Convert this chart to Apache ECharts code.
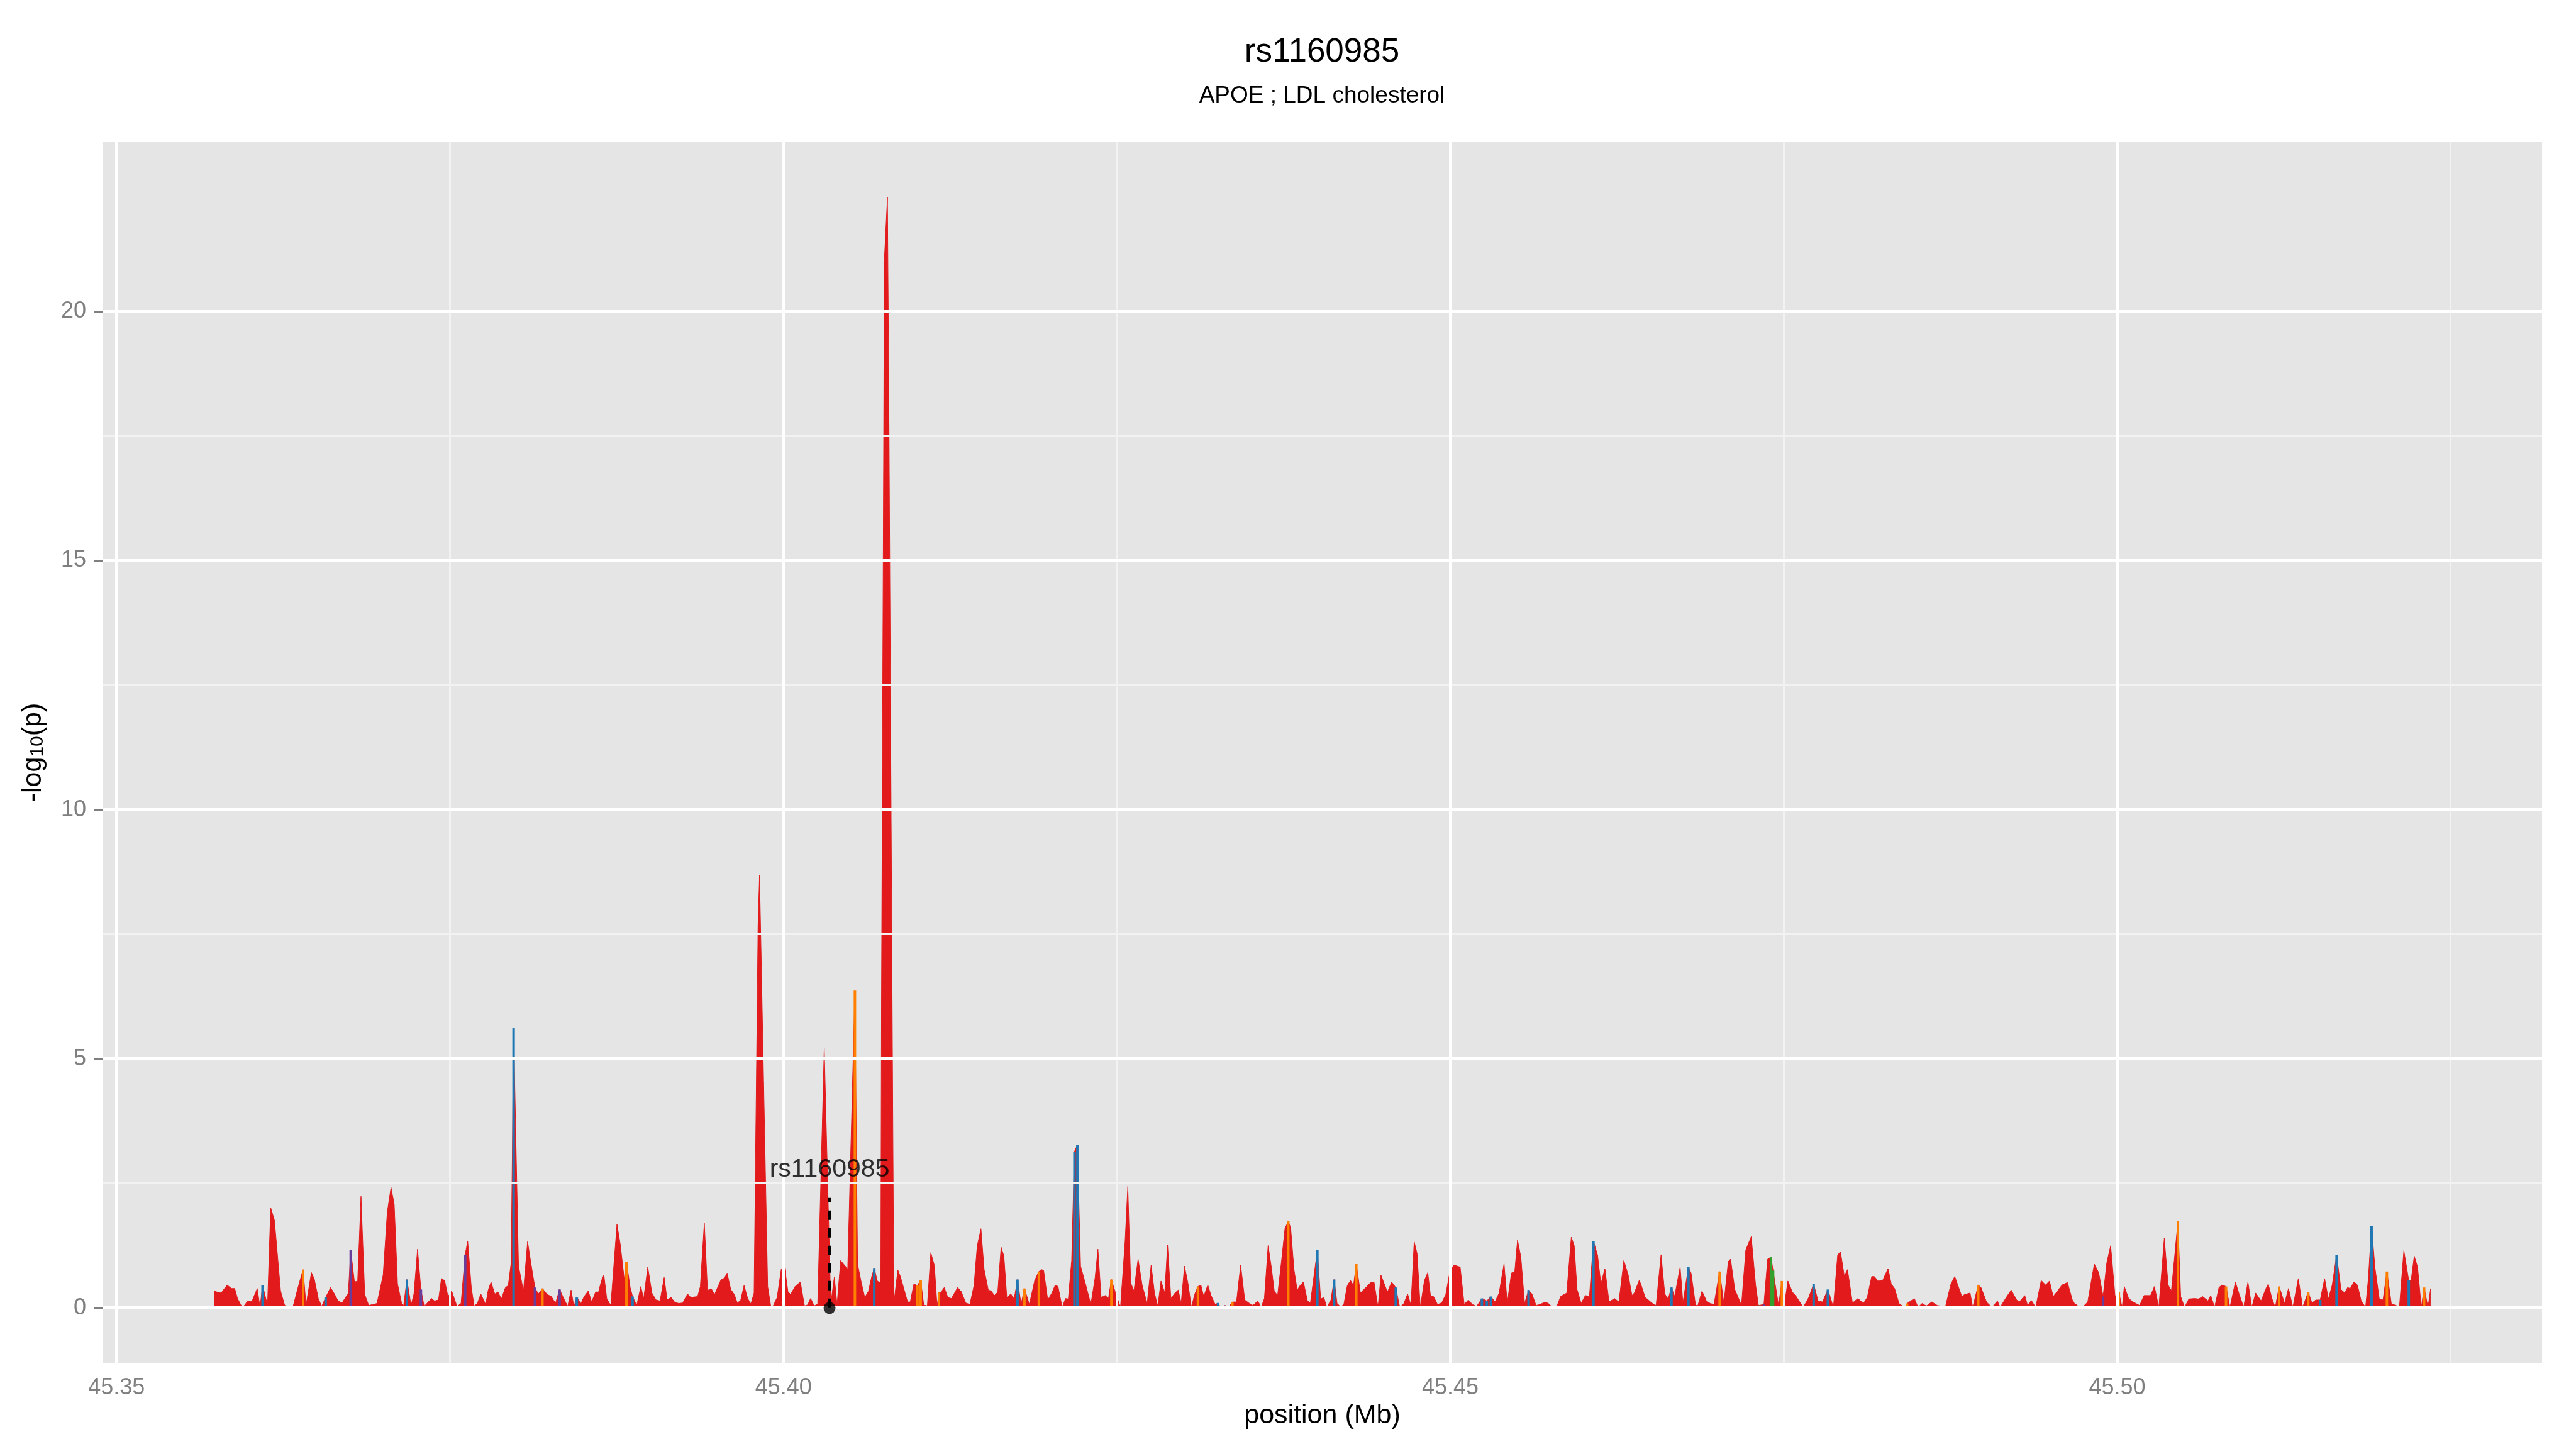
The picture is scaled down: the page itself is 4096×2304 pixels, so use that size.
<!DOCTYPE html>
<html lang="en">
  <head>
    <meta charset="UTF-8" />
    <title>rs1160985</title>
    <style>
      body {
        margin: 0;
      }
      #main {
        width: 4096px;
        height: 2304px;
        background-color: #ffffff;
      }
    </style>
  </head>
  <body>
    <div id="main"></div>
    <script src="https://cdn.jsdelivr.net/npm/echarts@6/dist/echarts.min.js"></script>

    <script>
      // SNP positions (Mb)
      const positionMb = [
        45.35732, 45.35753, 45.35784, 45.3583, 45.35861, 45.35886, 45.35907, 45.35938, 45.35953, 45.35984,
        45.36015, 45.36055, 45.36076, 45.36095, 45.36132, 45.36156, 45.36184, 45.3623, 45.36261, 45.36322,
        45.36359, 45.36399, 45.36421, 45.36461, 45.36482, 45.36513, 45.36538, 45.36568, 45.36605, 45.36636,
        45.36661, 45.36691, 45.36738, 45.36756, 45.36784, 45.36808, 45.36833, 45.36861, 45.36891, 45.36922,
        45.36953, 45.36999, 45.3703, 45.37058, 45.37082, 45.37107, 45.37138, 45.37153, 45.37177, 45.37208,
        45.3723, 45.37257, 45.37282, 45.37307, 45.37337, 45.37362, 45.37384, 45.37414, 45.37436, 45.3746,
        45.37485, 45.37513, 45.37553, 45.37583, 45.37614, 45.37633, 45.3766, 45.37682, 45.37707, 45.37731,
        45.37768, 45.37787, 45.37808, 45.37836, 45.3786, 45.37885, 45.37916, 45.37937, 45.37959, 45.37977,
        45.38014, 45.38051, 45.38082, 45.38106, 45.38137, 45.38162, 45.38193, 45.38229, 45.3826, 45.38291,
        45.38322, 45.38353, 45.38383, 45.38408, 45.38429, 45.38451, 45.38482, 45.38506, 45.38537, 45.38562,
        45.38592, 45.38614, 45.38636, 45.38654, 45.38676, 45.38706, 45.38752, 45.38777, 45.38808, 45.38823,
        45.38851, 45.38869, 45.389, 45.38931, 45.38952, 45.38983, 45.39014, 45.39045, 45.39075, 45.39106,
        45.39128, 45.39158, 45.39183, 45.39214, 45.39245, 45.39281, 45.39306,
        45.39357, 45.39377, 45.39407, 45.39431, 45.39458, 45.39484, 45.39531, 45.39558, 45.39578, 45.39605,
        45.39632, 45.39654, 45.39679, 45.39705, 45.39732, 45.39756, 45.3978, 45.3981, 45.39821, 45.39882,
        45.39906, 45.3992, 45.39953, 45.39984, 45.40007, 45.40034, 45.40054, 45.40087, 45.40127, 45.40158,
        45.40181, 45.40204, 45.40231, 45.40257, 45.40306, 45.40355, 45.40382, 45.40402, 45.40429, 45.40482,
        45.40536, 45.40556, 45.40583, 45.4061, 45.40637, 45.40663, 45.40681, 45.40704, 45.4073, 45.40735,
        45.40752, 45.40756, 45.4078, 45.40792, 45.40816, 45.40828, 45.40858, 45.40878, 45.40911, 45.40931,
        45.40951, 45.40978, 45.41005, 45.41029, 45.41052, 45.41079, 45.41105, 45.41132, 45.41152, 45.41166,
        45.41179, 45.41206, 45.41233, 45.4126, 45.41306, 45.41333,
        45.41367, 45.41398, 45.41429, 45.41453, 45.41481, 45.41505, 45.41536, 45.41558, 45.41582, 45.41607,
        45.41632, 45.41653, 45.41675, 45.41705, 45.4173, 45.41755, 45.41782, 45.41807, 45.41844, 45.41884,
        45.41915, 45.41936, 45.41951, 45.41982, 45.42013, 45.42038, 45.42059, 45.4209, 45.42115, 45.42136,
        45.42161, 45.42182, 45.42204, 45.42228, 45.42265, 45.42305, 45.42336, 45.42358, 45.42382, 45.42413,
        45.42437, 45.42459, 45.4249, 45.42527, 45.42561, 45.42582, 45.42604, 45.42628, 45.42659, 45.4269,
        45.42727, 45.42757, 45.42782, 45.42807, 45.42831, 45.42859, 45.4288, 45.42905, 45.42936, 45.4296,
        45.42982, 45.43007, 45.43034, 45.43059, 45.43083, 45.43108, 45.4313, 45.43151, 45.43182, 45.43206,
        45.43237, 45.43259, 45.4328, 45.43311, 45.43336, 45.43366, 45.43397, 45.43428, 45.43459, 45.43489,
        45.4352, 45.43557, 45.43582, 45.43606, 45.43634, 45.43659, 45.4368, 45.43705, 45.43736, 45.4376,
        45.43785, 45.43803, 45.43828, 45.43852, 45.43874, 45.43899, 45.43929, 45.43951, 45.43982, 45.44003,
        45.44028, 45.44052, 45.44074, 45.44105, 45.44129, 45.44151, 45.44182, 45.44203, 45.44228, 45.44252,
        45.44274, 45.44295, 45.44326, 45.44351, 45.44382, 45.44406, 45.44428, 45.44458, 45.4448, 45.44505,
        45.44529, 45.4456, 45.44591, 45.44621, 45.44652, 45.4468, 45.44705, 45.44729, 45.44751, 45.44775,
        45.44806, 45.44831, 45.44852, 45.44874, 45.44904, 45.44935, 45.44966, 45.44997, 45.45027, 45.45074,
        45.45104, 45.45135, 45.45166, 45.45197, 45.45237, 45.45274, 45.45304, 45.45335, 45.45366, 45.45403,
        45.45427, 45.45458, 45.45483, 45.45504, 45.45529, 45.45557, 45.45587, 45.45612, 45.45643, 45.45673,
        45.4571, 45.45735, 45.45766, 45.45796, 45.45827, 45.45873, 45.45907, 45.45929, 45.4595, 45.45981,
        45.46012, 45.46043, 45.46073, 45.46104, 45.46129, 45.46159,
        45.4619, 45.46231, 45.46264, 45.46301, 45.46334, 45.46362, 45.46379, 45.46416, 45.46428, 45.46461,
        45.46485, 45.4651, 45.46543, 45.4658, 45.46608, 45.46633, 45.46658, 45.46682, 45.46723, 45.46744,
        45.46785, 45.46805, 45.46838, 45.46854, 45.46887, 45.4692, 45.46949, 45.46977, 45.47019, 45.47051,
        45.47084, 45.47101, 45.47133, 45.47183, 45.47215, 45.47256, 45.47289, 45.4731, 45.47351, 45.47379,
        45.47404, 45.4742, 45.47461, 45.47486, 45.47502, 45.47531, 45.47564, 45.47593, 45.47646, 45.47687,
        45.47724, 45.47757, 45.4779, 45.47831, 45.47872, 45.47904, 45.47925, 45.47954, 45.47978, 45.48015,
        45.48056, 45.48097, 45.48126, 45.48159, 45.48179, 45.48208, 45.48241, 45.48282, 45.48306, 45.48331,
        45.48364, 45.48405, 45.48425, 45.48479, 45.48507, 45.48536, 45.48569, 45.4861, 45.48651, 45.48712,
        45.48753, 45.48782, 45.48835, 45.48856, 45.48897, 45.48917, 45.48958, 45.48979, 45.4902, 45.49061,
        45.49102, 45.49122, 45.49163, 45.49205, 45.49246, 45.49266, 45.49307, 45.49328, 45.49356, 45.49389,
        45.4943, 45.49463, 45.49492, 45.4952, 45.49553, 45.49586, 45.49627, 45.49668, 45.49709, 45.49738,
        45.49779, 45.49828, 45.49861, 45.49894, 45.49922, 45.49951, 45.49984, 45.50012, 45.50037, 45.50053,
        45.50086, 45.50119, 45.50168, 45.50201, 45.5025, 45.50279, 45.50312, 45.50353, 45.50382, 45.50406,
        45.50435, 45.50455, 45.50476, 45.50505, 45.50537, 45.50578, 45.50611, 45.5064, 45.50681, 45.50701,
        45.5073, 45.50763, 45.50784, 45.50816, 45.50845, 45.50886, 45.50915, 45.50948, 45.5098, 45.51009,
        45.51038, 45.51079, 45.51112, 45.51132, 45.51161, 45.51185, 45.51214, 45.51255, 45.51284, 45.51317,
        45.51358, 45.5139, 45.51432, 45.5146, 45.51489, 45.51522, 45.51555, 45.51583, 45.51612, 45.51645,
        45.51678, 45.51706, 45.51727, 45.51747, 45.51776, 45.51801, 45.51829, 45.51862, 45.51883, 45.51907,
        45.51932, 45.51965, 45.51993, 45.52022, 45.52055, 45.52088, 45.52116, 45.52149, 45.52186, 45.52203,
        45.52227, 45.52252, 45.5228, 45.52301, 45.5233, 45.5235,
      ];

      // -log10(p) for each SNP
      const logP = [
        0.34, 0.32, 0.3, 0.46, 0.39, 0.39, 0.19, 0.03, 0.03, 0.14,
        0.13, 0.39, 0.01, 0.46, 0.05, 2.01, 1.76, 0.34, 0.05, 0.01,
        0.39, 0.77, 0.05, 0.71, 0.59, 0.19, 0.03, 0.21, 0.41, 0.27,
        0.14, 0.1, 0.3, 1.16, 0.52, 0.54, 2.24, 0.27, 0.05, 0.07,
        0.09, 0.66, 1.92, 2.42, 2.08, 0.48, 0.09, 0.05, 0.57, 0.05,
        0.28, 1.18, 0.37, 0.03, 0.12, 0.19, 0.14, 0.16, 0.59, 0.55,
        0.23, 0.34, 0.03, 0.09, 1.07, 1.34, 0.41, 0.03, 0.1, 0.28,
        0.07, 0.36, 0.52, 0.28, 0.32, 0.18, 0.41, 0.45, 0.91, 5.62,
        0.84, 0.34, 1.33, 0.91, 0.41, 0.28, 0.39, 0.27, 0.23, 0.09,
        0.37, 0.19, 0.03, 0.36, 0.03, 0.21, 0.09, 0.23, 0.34, 0.12,
        0.32, 0.32, 0.55, 0.66, 0.18, 0.05, 1.68, 1.27, 0.55, 0.93,
        0.41, 0.23, 0.05, 0.43, 0.18, 0.82, 0.3, 0.16, 0.14, 0.61,
        0.16, 0.21, 0.12, 0.09, 0.1, 0.28, 0.21,
        0.23, 0.43, 1.71, 0.35, 0.39, 0.27, 0.56, 0.6, 0.7, 0.37,
        0.27, 0.1, 0.15, 0.45, 0.19, 0.08, 0.3, 7.7, 8.69, 0.43,
        0.02, 0.02, 0.21, 0.78, 0.85, 0.33, 0.27, 0.43, 0.52, 0.04,
        0.06, 0.19, 0.04, 0.08, 5.22, 0.08, 0.62, 0.06, 0.95, 0.78,
        6.38, 0.88, 0.52, 0.21, 0.33, 0.64, 0.8, 0.54, 0.5, 6.0,
        17.6, 21.0, 22.3, 17.6, 5.8, 0.1, 0.76, 0.62, 0.31, 0.12,
        0.12, 0.48, 0.45, 0.56, 0.06, 0.04, 1.11, 0.85, 0.04, 0.31,
        0.31, 0.41, 0.21, 0.19, 0.41, 0.33,
        0.1, 0.07, 0.45, 1.24, 1.59, 0.77, 0.36, 0.34, 0.25, 0.32,
        1.22, 1.04, 0.21, 0.28, 0.18, 0.57, 0.07, 0.39, 0.07, 0.55,
        0.73, 0.77, 0.75, 0.16, 0.3, 0.46, 0.43, 0.01, 0.19, 0.18,
        0.95, 3.14, 3.27, 0.84, 0.48, 0.07, 0.59, 1.18, 0.21, 0.25,
        0.19, 0.57, 0.3, 0.01, 1.31, 2.44, 0.5, 0.34, 0.98, 0.45,
        0.09, 0.86, 0.3, 0.03, 0.54, 0.3, 1.27, 0.19, 0.3, 0.36,
        0.09, 0.84, 0.48, 0.01, 0.27, 0.43, 0.46, 0.23, 0.46, 0.25,
        0.07, 0.1, 0.0, 0.05, 0.01, 0.12, 0.12, 0.86, 0.16, 0.1,
        0.05, 0.14, 0.01, 0.19, 1.25, 0.8, 0.34, 0.25, 0.98, 1.59,
        1.74, 1.61, 0.77, 0.36, 0.45, 0.52, 0.14, 0.1, 0.73, 1.16,
        0.18, 0.21, 0.01, 0.16, 0.57, 0.09, 0.01, 0.09, 0.45, 0.55,
        0.45, 0.88, 0.3, 0.37, 0.45, 0.52, 0.52, 0.01, 0.66, 0.48,
        0.32, 0.52, 0.41, 0.01, 0.09, 0.28, 0.05, 1.33, 1.09, 0.01,
        0.55, 0.71, 0.23, 0.23, 0.07, 0.1, 0.27, 0.73, 0.86, 0.82,
        0.07, 0.16, 0.07, 0.03, 0.19, 0.14, 0.23, 0.12, 0.3, 0.89,
        0.09, 0.7, 0.73, 1.36, 1.02, 0.09, 0.36, 0.28, 0.05, 0.07,
        0.12, 0.09, 0.01, 0.01, 0.23, 0.3, 1.42, 1.25, 0.37, 0.09,
        0.25, 0.23, 1.34, 1.06, 0.48, 0.79,
        0.12, 0.19, 0.12, 0.95, 0.66, 0.25, 0.3, 0.55, 0.48, 0.21,
        0.16, 0.1, 0.05, 1.07, 0.28, 0.18, 0.41, 0.23, 0.82, 0.1,
        0.82, 0.7, 0.07, 0.03, 0.34, 0.14, 0.09, 0.07, 0.73, 0.09,
        0.93, 0.98, 0.37, 0.05, 1.16, 1.43, 0.46, 0.05, 0.07, 0.98,
        1.02, 0.75, 0.05, 0.54, 0.01, 0.54, 0.32, 0.23, 0.01, 0.21,
        0.48, 0.14, 0.12, 0.37, 0.01, 1.06, 1.13, 0.64, 0.77, 0.1,
        0.19, 0.09, 0.21, 0.63, 0.63, 0.54, 0.55, 0.79, 0.48, 0.39,
        0.09, 0.01, 0.09, 0.19, 0.01, 0.09, 0.04, 0.12, 0.05, 0.02,
        0.48, 0.63, 0.23, 0.27, 0.3, 0.01, 0.46, 0.41, 0.12, 0.01,
        0.14, 0.01, 0.19, 0.36, 0.16, 0.12, 0.25, 0.05, 0.15, 0.01,
        0.55, 0.46, 0.54, 0.23, 0.34, 0.46, 0.51, 0.12, 0.03, 0.01,
        0.12, 0.88, 0.71, 0.23, 0.91, 1.25, 0.23, 0.32, 0.0, 0.43,
        0.19, 0.12, 0.05, 0.25, 0.25, 0.43, 0.01, 1.4, 0.46, 0.34,
        1.16, 1.74, 0.23, 0.01, 0.18, 0.19, 0.18, 0.23, 0.14, 0.25,
        0.01, 0.41, 0.46, 0.43, 0.01, 0.52, 0.27, 0.01, 0.52, 0.01,
        0.3, 0.14, 0.37, 0.48, 0.18, 0.01, 0.43, 0.09, 0.39, 0.01,
        0.59, 0.01, 0.32, 0.1, 0.16, 0.16, 0.59, 0.18, 0.46, 1.06,
        0.37, 0.3, 0.41, 0.39, 0.52, 0.46, 0.14, 0.01, 0.59, 1.65,
        0.82, 0.18, 0.16, 0.73, 0.09, 0.05, 0.03, 1.15, 0.55, 0.54,
        1.04, 0.82, 0.01, 0.41, 0.01, 0.39,
      ];

      // LD colour class of each SNP: r red, o orange, b blue, p purple, g green
      const ldClass = [
        "rrrrrrrrrr", "rrrbrrrrrr", "rorrrrrbrr", "rrrprrrrrr", "rrrrrrrrbr",
        "rrprrrrrrr", "rrrrprrrrr", "rrrrrrrrrb", "rrrrprorrr", "prrrrbrrrr",
        "rrrrrrrrro", "rbrrrrrrrr", "rrrrrrr",
        "rrrrrrrrrr", "rrrrrrrrrr", "rrrrrrrrrr", "rrrrrrrrrr", "orrrrrbrrr",
        "rrrrrrrrrr", "rroorrrrro", "rrrrrr",
        "rrrrrrrrrr", "rrrrrbrorr", "orrrrrrrrr", "rbbrrrrrrr", "rorrrrrrrr",
        "rrrrrrrrrr", "rrrrrorrrr", "rbrprorrrr", "rrrrrrrrrr", "orrrrrrrrb",
        "rrrrbrrrrr", "rorrrrrrrr", "rrbrrrrrrr", "rrrrrrrrrr", "rrrrbbbrrr",
        "rrrrrrbror", "rrrrrrrrrr", "rrbrrr",
        "rrrrrrrrrr", "rrbrrrbrrr", "brrrrrrror", "rrrrrrrgpr", "ggrorrrrrr",
        "brrbrrrrrr", "rrrrrrrrrr", "rrorrrrrrr", "rrrrrrorrr", "rrrrrrrrrr",
        "rrrrrrrrrr", "rrrprrrorr", "rrrrrrrrrr", "rorrrrrrrr", "rrrorrrrrr",
        "rrrrrrorrr", "rrorrbrrrb", "rrrrrrrrrb", "rrrorrrrbr", "rrrorr",
      ].join("").split("");

      const ldColors = { r: "#E31A1C", o: "#FF7F00", b: "#1F78B4", p: "#6A3D9A", g: "#33A02C" };

      const xMajor = [45.35, 45.4, 45.45, 45.5];
      const xMinor = [45.375, 45.425, 45.475, 45.525];
      const yMajor = [0, 5, 10, 15, 20];
      const yMinor = [2.5, 7.5, 12.5, 17.5];

      // highlighted SNP
      const snpName = "rs1160985";
      const snpPos = 45.40346;
      const snpLineTop = 2.21;
      const snpLabelY = 2.78;

      const font = "Liberation Sans";
      const myChart = echarts.init(document.getElementById("main"));

      const areaData = positionMb.map((x, i) => [x, logP[i]]);
      // coloured slivers for the SNPs that are not in the red class
      const stripeData = [];
      positionMb.forEach((x, i) => {
        if (ldClass[i] !== "r") {
          stripeData.push({ value: [x, logP[i]], itemStyle: { color: ldColors[ldClass[i]] } });
        }
      });

      const option = {
        animation: false,
        backgroundColor: "#ffffff",
        graphic: [
          {
            type: "text",
            x: 2102,
            y: 83,
            style: {
              text: "rs1160985",
              fill: "#000000",
              fontSize: 53,
              fontFamily: font,
              align: "center",
              verticalAlign: "middle",
            },
          },
          {
            type: "text",
            x: 2102,
            y: 153,
            style: {
              text: "APOE ; LDL cholesterol",
              fill: "#000000",
              fontSize: 37,
              fontFamily: font,
              align: "center",
              verticalAlign: "middle",
            },
          },
        ],
        grid: {
          left: 163,
          right: 54,
          top: 225,
          bottom: 136,
          show: true,
          backgroundColor: "#E5E5E5",
          borderWidth: 0,
        },
        xAxis: {
          type: "value",
          min: 45.34895,
          max: 45.53185,
          axisLine: { show: false },
          splitLine: { show: false },
          axisTick: {
            show: true,
            customValues: xMajor,
            length: 14,
            lineStyle: { color: "#7F7F7F", width: 4 },
          },
          axisLabel: {
            customValues: xMajor,
            formatter: (v) => v.toFixed(2),
            color: "#7F7F7F",
            fontSize: 36,
            fontFamily: font,
            margin: 21,
          },
          name: "position (Mb)",
          nameLocation: "middle",
          nameGap: 59,
          nameTextStyle: { color: "#000000", fontSize: 43, fontFamily: font },
        },
        yAxis: {
          type: "value",
          min: -1.115,
          max: 23.415,
          axisLine: { show: false },
          splitLine: { show: false },
          axisTick: {
            show: true,
            customValues: yMajor,
            length: 14,
            lineStyle: { color: "#7F7F7F", width: 4 },
          },
          axisLabel: {
            customValues: yMajor,
            color: "#7F7F7F",
            fontSize: 36,
            fontFamily: font,
            margin: 26,
          },
          name: "-log{sub|10}(p)",
          nameLocation: "middle",
          nameRotate: 90,
          nameGap: 88,
          nameTextStyle: {
            color: "#000000",
            fontSize: 43,
            fontFamily: font,
            rich: {
              sub: { fontSize: 30, fontFamily: font, color: "#000000", verticalAlign: "bottom" },
            },
          },
        },
        series: [
          {
            // minor grid lines
            type: "line",
            data: [],
            z: 1,
            silent: true,
            markLine: {
              silent: true,
              precision: 6,
              symbol: ["none", "none"],
              label: { show: false },
              lineStyle: { color: "#F2F2F2", width: 3, type: "solid" },
              data: [...xMinor.map((v) => ({ xAxis: v })), ...yMinor.map((v) => ({ yAxis: v }))],
            },
          },
          {
            // major grid lines
            type: "line",
            data: [],
            z: 1,
            silent: true,
            markLine: {
              silent: true,
              precision: 6,
              symbol: ["none", "none"],
              label: { show: false },
              lineStyle: { color: "#FFFFFF", width: 5, type: "solid" },
              data: [...xMajor.map((v) => ({ xAxis: v })), ...yMajor.map((v) => ({ yAxis: v }))],
            },
          },
          {
            name: "-log10(p)",
            type: "line",
            data: areaData,
            z: 3,
            showSymbol: false,
            symbol: "none",
            sampling: null,
            lineStyle: { color: "#E31A1C", width: 1 },
            areaStyle: { color: "#E31A1C", opacity: 1 },
          },
          {
            name: "LD",
            type: "bar",
            data: stripeData,
            z: 4,
            barWidth: 4,
            barGap: "-100%",
          },
          {
            // dashed pointer to the SNP
            type: "line",
            data: [
              [snpPos, 0],
              [snpPos, snpLineTop],
            ],
            z: 5,
            symbol: "none",
            lineStyle: { color: "#000000", width: 5, type: [15, 13] },
          },
          {
            type: "scatter",
            data: [[snpPos, 0]],
            z: 6,
            symbolSize: 19,
            itemStyle: { color: "#000000" },
          },
          {
            type: "scatter",
            data: [[snpPos, snpLabelY]],
            z: 6,
            symbolSize: 0.1,
            itemStyle: { color: "rgba(0,0,0,0)" },
            label: {
              show: true,
              position: "inside",
              formatter: snpName,
              color: "#000000",
              fontSize: 41,
              fontFamily: font,
            },
          },
        ],
      };
      myChart.setOption(option);
    </script>
  </body>
</html>
